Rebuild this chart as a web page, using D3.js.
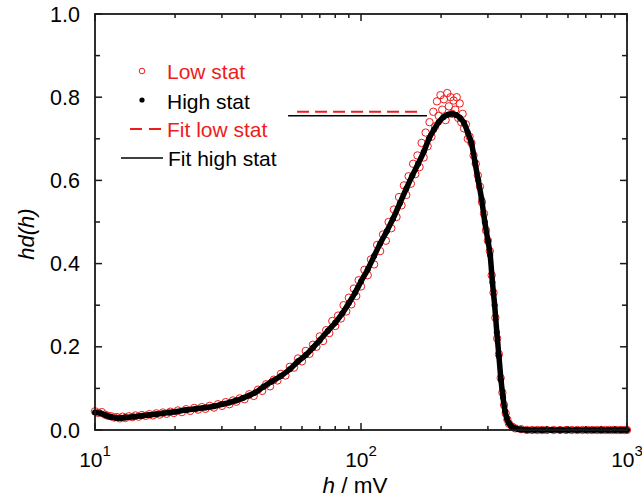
<!DOCTYPE html>
<html>
<head>
<meta charset="utf-8">
<script src="https://cdn.jsdelivr.net/npm/d3@7"></script>
<style>
  body { margin: 0; background: #fff; }
  text { font-family: Arial, "Liberation Sans", sans-serif; }
</style>
</head>
<body>
<div id="chart"></div>
<script>
// high statistics spectrum (h in mV, hd(h))
let highH = [10, 10.5, 11, 11.5, 12, 12.5, 13, 14, 15, 16, 17, 18, 19, 20, 22, 24, 26, 28, 30, 32,
    34, 36, 38, 40, 43, 46, 50, 54, 58, 62, 66, 70, 75, 80, 85, 90, 95, 100, 106, 112,
    118, 125, 132, 140, 148, 156, 164, 172, 180, 188, 196, 204, 212, 220, 228, 236, 244, 252, 260, 268,
    276, 284, 292, 300, 306, 312, 318, 324, 330, 336, 342, 348, 354, 360, 366, 372, 380, 390, 400, 420,
    450, 480, 520, 560, 600, 650, 700, 750, 800, 850, 900, 950, 1000];
let highV = [0.042, 0.040, 0.035, 0.031, 0.029, 0.029, 0.030, 0.032, 0.034, 0.036, 0.038, 0.040, 0.042, 0.044, 0.048, 0.051, 0.054, 0.057, 0.062, 0.066,
    0.071, 0.077, 0.083, 0.090, 0.104, 0.116, 0.130, 0.146, 0.165, 0.180, 0.198, 0.216, 0.238, 0.258, 0.280, 0.305, 0.330, 0.357, 0.386, 0.418,
    0.448, 0.478, 0.508, 0.545, 0.580, 0.612, 0.640, 0.668, 0.700, 0.722, 0.740, 0.752, 0.758, 0.760, 0.757, 0.750, 0.738, 0.715, 0.690, 0.645,
    0.600, 0.555, 0.500, 0.455, 0.420, 0.355, 0.300, 0.235, 0.178, 0.120, 0.078, 0.045, 0.027, 0.016, 0.010, 0.006, 0.004, 0.002, 0.001, 0,
    0, 0, 0, 0, 0, 0, 0, 0, 0, 0, 0, 0, 0];

// low statistics spectrum
let lowH = [10, 10.3, 10.6, 10.9, 11.2, 11.5, 11.8, 12.1, 12.4, 12.7, 13, 13.4, 13.8, 14.2, 14.6, 15, 15.5, 16, 16.5, 17,
    17.5, 18, 18.6, 19.2, 19.8, 20.5, 21.2, 22, 22.8, 23.6, 24.4, 25.2, 26, 27, 28, 29, 30, 31, 32, 33,
    34, 35, 36.5, 38, 39.5, 41, 42.5, 44, 45.5, 47, 48.5, 50, 52, 54, 56, 58, 60, 62, 64, 66,
    68, 70, 72, 74, 76, 78, 80, 82, 84, 86, 88, 90, 92, 94, 96, 98, 100, 103, 106, 109,
    112, 115, 118, 121, 124, 127, 130, 133, 136, 139, 142, 145, 148, 151, 154, 157, 160, 163, 166, 169,
    172, 175, 178, 181, 184, 187, 190, 193, 196, 199, 202, 205, 208, 211, 214, 217, 220, 223, 226, 229,
    232, 235, 238, 241, 244, 248, 252, 256, 260, 265, 270, 275, 280, 285, 290, 295, 300, 305, 310, 315,
    320, 325, 330, 335, 340, 345, 350, 355, 360, 370, 380, 400, 420, 440, 460, 480, 500, 530, 560, 590,
    620, 650, 680, 710, 740, 770, 800, 830, 860, 890, 920, 950, 980, 1000];
let lowV = [0.045, 0.041, 0.043, 0.037, 0.034, 0.033, 0.030, 0.031, 0.028, 0.032, 0.029, 0.033, 0.031, 0.035, 0.032, 0.036, 0.034, 0.038, 0.035, 0.040,
    0.037, 0.042, 0.039, 0.044, 0.041, 0.047, 0.043, 0.050, 0.046, 0.053, 0.049, 0.055, 0.051, 0.058, 0.054, 0.062, 0.058, 0.067, 0.062, 0.071,
    0.068, 0.076, 0.074, 0.086, 0.082, 0.097, 0.094, 0.110, 0.105, 0.121, 0.119, 0.135, 0.131, 0.152, 0.150, 0.172, 0.165, 0.190, 0.183, 0.205,
    0.200, 0.225, 0.214, 0.240, 0.233, 0.262, 0.250, 0.275, 0.268, 0.300, 0.285, 0.318, 0.302, 0.340, 0.322, 0.360, 0.345, 0.385, 0.372, 0.410,
    0.398, 0.445, 0.430, 0.470, 0.455, 0.500, 0.485, 0.530, 0.512, 0.560, 0.540, 0.588, 0.565, 0.610, 0.592, 0.640, 0.615, 0.660, 0.632, 0.690,
    0.655, 0.715, 0.682, 0.740, 0.705, 0.765, 0.730, 0.790, 0.755, 0.805, 0.770, 0.795, 0.745, 0.810, 0.778, 0.800, 0.760, 0.792, 0.770, 0.800,
    0.750, 0.785, 0.740, 0.760, 0.725, 0.735, 0.700, 0.705, 0.690, 0.660, 0.640, 0.612, 0.585, 0.548, 0.520, 0.480, 0.455, 0.430, 0.372, 0.330,
    0.270, 0.220, 0.182, 0.125, 0.090, 0.060, 0.040, 0.025, 0.015, 0.008, 0.004, 0.002, 0, 0, 0, 0, 0, 0, 0, 0,
    0, 0, 0, 0, 0, 0, 0, 0, 0, 0, 0, 0, 0, 0];

// fit plateau segments: [h start, h end, value]
let fitLow = [57.5, 169.5, 0.765];
let fitHigh = [53.2, 177, 0.7555];

let yTicks = [0, 0.2, 0.4, 0.6, 0.8, 1.0];
let yMinor = [0.1, 0.3, 0.5, 0.7, 0.9];
let xTicks = [10, 100, 1000];
let xMinor = [20, 30, 40, 50, 60, 70, 80, 90, 200, 300, 400, 500, 600, 700, 800, 900];

let legendItems = ["Low stat", "High stat", "Fit low stat", "Fit high stat"];

let width = 642;
let height = 503;
let pLeft = 95, pRight = 627, pTop = 14, pBottom = 430;
let red = "#ee1c1c";

let x = d3.scaleLog().domain([10, 1000]).range([pLeft, pRight]);
let y = d3.scaleLinear().domain([0, 1]).range([pBottom, pTop]);

let svg = d3.select("#chart")
    .append("svg")
    .attr("width", width)
    .attr("height", height);

let plot = svg.append("g");

// low stat circles
let low = lowH.map((h, i) => ({h: h, v: lowV[i]}));
plot.selectAll(".low")
    .data(low)
    .enter().append("circle")
    .attr("class", "low")
    .attr("cx", d => x(d.h))
    .attr("cy", d => y(d.v))
    .attr("r", 3.7)
    .attr("fill", "none")
    .attr("stroke", red)
    .attr("stroke-width", 1);

// high stat points
let high = highH.map((h, i) => ({h: h, v: highV[i]}));
let line = d3.line().x(d => x(d.h)).y(d => y(d.v)).curve(d3.curveMonotoneX);

plot.append("path")
    .attr("d", line(high))
    .attr("fill", "none")
    .attr("stroke", "#000")
    .attr("stroke-width", 5.5)
    .attr("stroke-linejoin", "round");

plot.selectAll(".high")
    .data(high)
    .enter().append("circle")
    .attr("class", "high")
    .attr("cx", d => x(d.h))
    .attr("cy", d => y(d.v))
    .attr("r", 3)
    .attr("fill", "#000");

// fit lines
plot.append("line")
    .attr("x1", x(fitHigh[0])).attr("x2", x(fitHigh[1]))
    .attr("y1", y(fitHigh[2])).attr("y2", y(fitHigh[2]))
    .attr("stroke", "#000").attr("stroke-width", 1.5);
plot.append("line")
    .attr("x1", x(fitLow[0])).attr("x2", x(fitLow[1]))
    .attr("y1", y(fitLow[2])).attr("y2", y(fitLow[2]))
    .attr("stroke", red).attr("stroke-width", 2)
    .attr("stroke-dasharray", "12,6");

// frame with inward ticks
let axisColor = "#1a1a1a";
svg.append("rect")
    .attr("x", pLeft).attr("y", pTop)
    .attr("width", pRight - pLeft).attr("height", pBottom - pTop)
    .attr("fill", "none").attr("stroke", axisColor).attr("stroke-width", 1.8);

function yTick(v, len) {
    svg.append("line").attr("x1", pLeft).attr("x2", pLeft + len)
        .attr("y1", y(v)).attr("y2", y(v)).attr("stroke", axisColor).attr("stroke-width", 1.5);
    svg.append("line").attr("x1", pRight).attr("x2", pRight - len)
        .attr("y1", y(v)).attr("y2", y(v)).attr("stroke", axisColor).attr("stroke-width", 1.5);
}
function xTick(v, len) {
    svg.append("line").attr("x1", x(v)).attr("x2", x(v))
        .attr("y1", pBottom).attr("y2", pBottom - len).attr("stroke", axisColor).attr("stroke-width", 1.5);
    svg.append("line").attr("x1", x(v)).attr("x2", x(v))
        .attr("y1", pTop).attr("y2", pTop + len).attr("stroke", axisColor).attr("stroke-width", 1.5);
}
yTicks.forEach(v => yTick(v, 7));
yMinor.forEach(v => yTick(v, 5));
xTicks.forEach(v => xTick(v, 7));
xMinor.forEach(v => xTick(v, 4));

// tick labels
svg.selectAll(".ylab")
    .data(yTicks)
    .enter().append("text")
    .attr("x", 80)
    .attr("y", d => y(d) + 7.5)
    .attr("text-anchor", "end")
    .style("font-size", "21.5px")
    .text(d => d.toFixed(1));

let xl = svg.selectAll(".xlab")
    .data(xTicks)
    .enter().append("text")
    .attr("x", d => x(d))
    .attr("y", 467)
    .attr("text-anchor", "middle")
    .style("font-size", "21px");
xl.append("tspan").text("10");
xl.append("tspan")
    .attr("dy", -11)
    .style("font-size", "15px")
    .text(d => Math.round(Math.log10(d)));

// axis titles
let xt = svg.append("text")
    .attr("x", (pLeft + pRight) / 2 - 6)
    .attr("y", 493)
    .attr("text-anchor", "middle")
    .style("font-size", "22.5px");
xt.append("tspan").style("font-style", "italic").text("h");
xt.append("tspan").text(" / mV");

svg.append("text")
    .attr("transform", "translate(34,234) rotate(-90)")
    .attr("text-anchor", "middle")
    .style("font-size", "22px")
    .style("font-style", "italic")
    .text("hd(h)");

// legend
let lg = svg.append("g");
lg.append("circle").attr("cx", 142).attr("cy", 71).attr("r", 2.8)
    .attr("fill", "none").attr("stroke", red).attr("stroke-width", 1);
lg.append("circle").attr("cx", 142).attr("cy", 100).attr("r", 2.6).attr("fill", "#000");
lg.append("line").attr("x1", 130).attr("x2", 161).attr("y1", 129).attr("y2", 129)
    .attr("stroke", red).attr("stroke-width", 2).attr("stroke-dasharray", "12,7");
lg.append("line").attr("x1", 121).attr("x2", 163).attr("y1", 158).attr("y2", 158)
    .attr("stroke", "#000").attr("stroke-width", 1.5);

let legendColors = [red, "#000", red, "#000"];
let legendY = [78.5, 108.5, 137, 165.5];
lg.selectAll(".ltext")
    .data(legendItems)
    .enter().append("text")
    .attr("x", (d, i) => i === 3 ? 168 : 167)
    .attr("y", (d, i) => legendY[i])
    .attr("fill", (d, i) => legendColors[i])
    .style("font-size", "21px")
    .text(d => d);
</script>
</body>
</html>
